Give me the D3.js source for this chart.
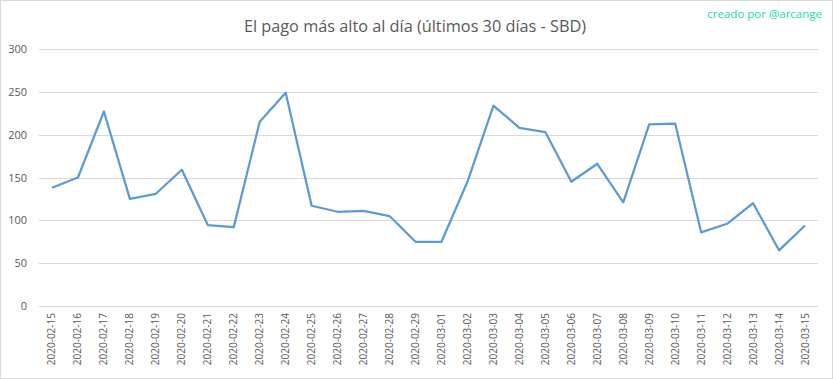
<!DOCTYPE html>
<html>
<head>
<meta charset="utf-8">
<script src="https://cdn.jsdelivr.net/npm/d3@7"></script>
<style>
  body { margin: 0; background: #fff; }
  #chart { width: 833px; height: 379px; }
</style>
</head>
<body>
<div id="chart"></div>
<script>
// data
var dates = ["2020-02-15","2020-02-16","2020-02-17","2020-02-18","2020-02-19","2020-02-20",
  "2020-02-21","2020-02-22","2020-02-23","2020-02-24","2020-02-25","2020-02-26","2020-02-27",
  "2020-02-28","2020-02-29","2020-03-01","2020-03-02","2020-03-03","2020-03-04","2020-03-05",
  "2020-03-06","2020-03-07","2020-03-08","2020-03-09","2020-03-10","2020-03-11","2020-03-12",
  "2020-03-13","2020-03-14","2020-03-15"];
var maxPayout = [138, 150, 227, 125, 131, 159, 94.5, 92, 215, 249, 117, 110, 111, 105, 75,
  75, 145, 234, 208, 203, 145, 166, 121, 212, 213, 86, 96, 120, 65, 94];
var yTicks = [0, 50, 100, 150, 200, 250, 300];

var W = 833, H = 379;
var margin = { top: 49, right: 15, bottom: 73, left: 39 };
var width = W - margin.left - margin.right,
    height = H - margin.top - margin.bottom;

var svg = d3.select("#chart").append("svg")
    .attr("width", W)
    .attr("height", H)
    .style("font-family", "'Open Sans', sans-serif");

// outer frame
svg.append("rect")
    .attr("x", 0.5).attr("y", 0.5)
    .attr("width", W - 1).attr("height", H - 1)
    .attr("fill", "#fff")
    .attr("stroke", "#d9d9d9");

svg.append("text")
    .attr("x", 415).attr("y", 32)
    .attr("text-anchor", "middle")
    .attr("font-size", "16.3px")
    .attr("fill", "#595959")
    .text("El pago más alto al día (últimos 30 días - SBD)");

svg.append("text")
    .attr("x", 822).attr("y", 18)
    .attr("text-anchor", "end")
    .attr("font-size", "11.5px")
    .attr("fill", "#17dba4")
    .text("creado por @arcange");

var g = svg.append("g")
    .attr("transform", "translate(" + margin.left + "," + margin.top + ")");

var x = d3.scaleBand()
    .domain(dates)
    .range([0, width]);

var y = d3.scaleLinear()
    .domain([0, 300])
    .range([height, 0]);

// gridlines
g.selectAll(".grid")
    .data(yTicks)
    .enter().append("line")
    .attr("x1", 0).attr("x2", width)
    .attr("y1", function(d) { return Math.round(y(d)) + 0.5; })
    .attr("y2", function(d) { return Math.round(y(d)) + 0.5; })
    .attr("stroke", "#d9d9d9")
    .attr("stroke-width", 1);

// y labels
var yAxis = g.append("g")
    .call(d3.axisLeft(y).tickValues(yTicks).tickSize(0).tickPadding(12));
yAxis.select(".domain").remove();
yAxis.selectAll("text")
    .attr("font-size", "11px")
    .attr("fill", "#595959")
    .style("font-family", "'Open Sans', sans-serif");

// x labels, rotated
var xAxis = g.append("g")
    .attr("transform", "translate(0," + height + ")")
    .call(d3.axisBottom(x).tickSize(0));
xAxis.select(".domain").remove();
xAxis.selectAll("text")
    .attr("transform", "rotate(-90)")
    .attr("text-anchor", "end")
    .attr("x", -7)
    .attr("y", 0)
    .attr("dy", "0.35em")
    .attr("font-size", "10px")
    .attr("fill", "#595959")
    .style("font-family", "'Open Sans', sans-serif");

var line = d3.line()
    .x(function(d, i) { return x(dates[i]) + x.bandwidth() / 2; })
    .y(function(d) { return y(d); });

g.append("path")
    .datum(maxPayout)
    .attr("d", line)
    .attr("fill", "none")
    .attr("stroke", "#5b9bd5")
    .attr("stroke-width", 2.25)
    .attr("stroke-linejoin", "round");
</script>
</body>
</html>
